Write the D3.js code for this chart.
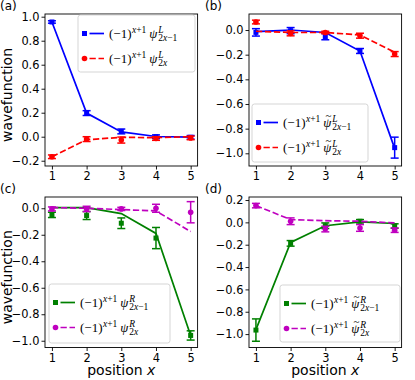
<!DOCTYPE html>
<html>
<head>
<meta charset="utf-8">
<script src="https://cdn.jsdelivr.net/npm/d3@7"></script>
<style>
  body { margin: 0; background: #fff; }
  svg { display: block; }
</style>
</head>
<body>
<svg id="fig" width="415" height="380"></svg>
<script>
// site positions x = 1..5
const positions = [1, 2, 3, 4, 5];

// (a) left edge, psi^L
const aOddLine = [0.956, 0.197, 0.040, 0.002, -0.003];
const aOddPts = [0.956, 0.197, 0.044, 0.000, -0.005];
const aOddErr = [0.010, 0.020, 0.020, 0.015, 0.015];
const aEvenLine = [-0.167, -0.025, -0.005, -0.008, 0.000];
const aEvenPts = [-0.167, -0.020, -0.028, -0.015, -0.010];
const aEvenErr = [0.015, 0.020, 0.025, 0.015, 0.015];

// (b) tilde psi^L
const bOddLine = [-0.013, 0.000, -0.020, -0.170, -0.960];
const bOddPts = [-0.019, -0.005, -0.054, -0.170, -0.954];
const bOddErr = [0.030, 0.025, 0.025, 0.020, 0.085];
const bEvenLine = [-0.010, -0.020, -0.020, -0.040, -0.180];
const bEvenPts = [0.065, -0.027, -0.020, -0.046, -0.195];
const bEvenErr = [0.015, 0.020, 0.010, 0.020, 0.020];

// (c) psi^R
const cOddLine = [0.005, 0.005, -0.040, -0.190, -0.960];
const cOddPts = [-0.050, -0.055, -0.113, -0.225, -0.960];
const cOddErr = [0.020, 0.030, 0.040, 0.080, 0.035];
const cEvenLine = [0.005, 0.000, -0.010, -0.020, -0.176];
const cEvenPts = [-0.005, -0.005, -0.005, 0.000, -0.030];
const cEvenErr = [0.015, 0.020, 0.012, 0.030, 0.080];

// (d) tilde psi^R
const dOddLine = [-0.960, -0.180, -0.030, 0.005, -0.010];
const dOddPts = [-0.964, -0.188, -0.030, 0.010, -0.033];
const dOddErr = [0.100, 0.025, 0.025, 0.015, 0.020];
const dEvenLine = [0.150, 0.025, 0.015, 0.010, -0.005];
const dEvenPts = [0.150, 0.010, -0.060, -0.050, -0.070];
const dEvenErr = [0.020, 0.030, 0.025, 0.030, 0.020];

// tick values
const xTicks = [1, 2, 3, 4, 5];
const yTicksA = [-0.2, 0.0, 0.2, 0.4, 0.6, 0.8, 1.0];
const yTicksB = [-1.0, -0.8, -0.6, -0.4, -0.2, 0.0];
const yTicksC = [-1.0, -0.8, -0.6, -0.4, -0.2, 0.0];
const yTicksD = [-1.0, -0.8, -0.6, -0.4, -0.2, 0.0, 0.2];

const panelLabels = ["(a)", "(b)", "(c)", "(d)"];

const BLUE = "#0000ff", RED = "#ff0000", GREEN = "#008000", MAGENTA = "#bf00bf";
const TICK_FONT = "11.4px 'DejaVu Sans'";
const LABEL_FONT = "14px 'DejaVu Sans'";

const panels = [
	{label: panelLabels[0], box: {x0: 45, x1: 197.6, y0: 14, y1: 166}, yDomain: [-0.244, 1.0225], yTicks: yTicksA,
		odd: {line: aOddLine, pts: aOddPts, err: aOddErr, color: BLUE},
		even: {line: aEvenLine, pts: aEvenPts, err: aEvenErr, color: RED},
		side: "L", tilde: false, legend: {x: 78, y: 15, w: 117, h: 57}, ylabel: true, xlabel: false},
	{label: panelLabels[1], box: {x0: 249, x1: 401.6, y0: 14, y1: 166}, yDomain: [-1.103, 0.13], yTicks: yTicksB,
		odd: {line: bOddLine, pts: bOddPts, err: bOddErr, color: BLUE},
		even: {line: bEvenLine, pts: bEvenPts, err: bEvenErr, color: RED},
		side: "L", tilde: true, legend: {x: 252, y: 104, w: 116, h: 58}, ylabel: false, xlabel: false},
	{label: panelLabels[2], box: {x0: 45, x1: 197.6, y0: 197, y1: 347.5}, yDomain: [-1.051, 0.085], yTicks: yTicksC,
		odd: {line: cOddLine, pts: cOddPts, err: cOddErr, color: GREEN},
		even: {line: cEvenLine, pts: cEvenPts, err: cEvenErr, color: MAGENTA},
		side: "R", tilde: false, legend: {x: 49, y: 284, w: 121, h: 59}, ylabel: true, xlabel: true},
	{label: panelLabels[3], box: {x0: 249, x1: 401.6, y0: 197, y1: 347.5}, yDomain: [-1.12, 0.227], yTicks: yTicksD,
		odd: {line: dOddLine, pts: dOddPts, err: dOddErr, color: GREEN},
		even: {line: dEvenLine, pts: dEvenPts, err: dEvenErr, color: MAGENTA},
		side: "R", tilde: true, legend: {x: 280, y: 285, w: 120, h: 57}, ylabel: false, xlabel: true}
];

const svg = d3.select("#fig");

// draws (-1)^{x+1} psi^{S}_{sub} as separate text pieces
function mathLabel(g, x, y, side, tilde, sub)
{
	const big = "13px 'Liberation Serif'";
	const small = "9.5px 'Liberation Serif'";
	let cx = x;
	const base = g.append("text").attr("x", cx).attr("y", y).style("font", big).text("(\u22121)");
	cx += base.node().getComputedTextLength() + 0.5;
	const sup = g.append("text").attr("x", cx).attr("y", y - 5.5).style("font", small);
	sup.append("tspan").style("font-style", "italic").text("x");
	sup.append("tspan").text("+1");
	cx += sup.node().getComputedTextLength() + 3;
	const psi = g.append("text").attr("x", cx).attr("y", y).style("font", "italic " + big).text("\u03c8");
	const pw = psi.node().getComputedTextLength();
	if (tilde) {
		g.append("text").attr("x", cx + pw / 2 + 1).attr("y", y - 8.5).attr("text-anchor", "middle")
			.style("font", "11px 'Liberation Serif'").text("~");
	}
	cx += pw + 0.8;
	g.append("text").attr("x", cx).attr("y", y - 5.5).style("font", "italic " + small).text(side);
	const st = g.append("text").attr("x", cx).attr("y", y + 3).style("font", small);
	st.append("tspan").text("2");
	st.append("tspan").style("font-style", "italic").text("x");
	if (sub) st.append("tspan").text(sub);
}

function drawMarker(g, x, y, kind, color)
{
	if (kind === "square") {
		g.append("rect").attr("x", x - 2.5).attr("y", y - 2.5).attr("width", 5).attr("height", 5).attr("fill", color);
	} else {
		g.append("circle").attr("cx", x).attr("cy", y).attr("r", 2.8).attr("fill", color);
	}
}

panels.forEach((p) => {
	const b = p.box;
	const g = svg.append("g");
	const xScale = d3.scaleLinear().domain([0.8, 5.2]).range([b.x0, b.x1]);
	const yScale = d3.scaleLinear().domain(p.yDomain).range([b.y1, b.y0]);

	const lineGen = d3.line().x((d, i) => xScale(positions[i])).y((d) => yScale(d));

	const plot = g.append("g");

	const drawSeries = (s, kind, dashed) => {
		// error bars with caps
		positions.forEach((pos, i) => {
			const px = xScale(pos);
			const lo = yScale(s.pts[i] - s.err[i]);
			const hi = yScale(s.pts[i] + s.err[i]);
			plot.append("line").attr("x1", px).attr("x2", px).attr("y1", lo).attr("y2", hi)
				.attr("stroke", s.color).attr("stroke-width", 1.5);
			[lo, hi].forEach((cy) => {
				plot.append("line").attr("x1", px - 4).attr("x2", px + 4).attr("y1", cy).attr("y2", cy)
					.attr("stroke", s.color).attr("stroke-width", 1.5);
			});
			drawMarker(plot, px, yScale(s.pts[i]), kind, s.color);
		});
		plot.append("path").datum(s.line).attr("d", lineGen).attr("fill", "none")
			.attr("stroke", s.color).attr("stroke-width", 1.7)
			.attr("stroke-dasharray", dashed ? "6.3,2.7" : null);
	};
	drawSeries(p.odd, "square", false);
	drawSeries(p.even, "circle", true);

	// axes
	const xAxis = g.append("g").attr("transform", `translate(0,${b.y1})`)
		.call(d3.axisBottom(xScale).tickValues(xTicks).tickSize(3.5).tickPadding(2.5).tickFormat(d3.format("d")));
	const yAxis = g.append("g").attr("transform", `translate(${b.x0},0)`)
		.call(d3.axisLeft(yScale).tickValues(p.yTicks).tickSize(3.5).tickPadding(2).tickFormat(d3.format(".1f")));
	[xAxis, yAxis].forEach((ax) => {
		ax.select(".domain").remove();
		ax.selectAll("line").attr("stroke", "#000").attr("stroke-width", 0.9);
		ax.selectAll("text").attr("fill", "#000").style("font", TICK_FONT);
	});

	// frame
	g.append("rect").attr("x", b.x0).attr("y", b.y0).attr("width", b.x1 - b.x0).attr("height", b.y1 - b.y0)
		.attr("fill", "none").attr("stroke", "#000").attr("stroke-width", 0.9);

	// legend
	const L = p.legend;
	const lg = g.append("g");
	lg.append("rect").attr("x", L.x).attr("y", L.y).attr("width", L.w).attr("height", L.h)
		.attr("rx", 2.5).attr("fill", "#fff").attr("fill-opacity", 0.8).attr("stroke", "#d0d0d0").attr("stroke-width", 0.9);
	const rows = [
		{s: p.odd, kind: "square", dashed: false, sub: "\u22121", dy: 18.5},
		{s: p.even, kind: "circle", dashed: true, sub: "", dy: 43.5}
	];
	rows.forEach((r) => {
		const ry = L.y + r.dy;
		drawMarker(lg, L.x + 6.5, ry, r.kind, r.s.color);
		lg.append("line").attr("x1", L.x + 11.5).attr("x2", L.x + 26).attr("y1", ry).attr("y2", ry)
			.attr("stroke", r.s.color).attr("stroke-width", 1.7).attr("stroke-dasharray", r.dashed ? "6.3,2.7" : null);
		mathLabel(lg, L.x + 31, ry + 4.5, p.side, p.tilde, r.sub);
	});

	// panel tag
	svg.append("text").attr("x", b.x0 - 45 + (b.x0 > 100 ? 1 : 0)).attr("y", b.y0 - 4)
		.style("font", "12px 'DejaVu Sans'").text(p.label);

	if (p.ylabel) {
		svg.append("text").attr("transform", `translate(11.5,${(b.y0 + b.y1) / 2 + 5}) rotate(-90)`)
			.attr("text-anchor", "middle").style("font", LABEL_FONT).text("wavefunction");
	}
	if (p.xlabel) {
		const t = svg.append("text").attr("x", (b.x0 + b.x1) / 2).attr("y", 375)
			.attr("text-anchor", "middle").style("font", LABEL_FONT);
		t.append("tspan").text("position ");
		t.append("tspan").style("font-style", "italic").text("x");
	}
});
</script>
</body>
</html>
